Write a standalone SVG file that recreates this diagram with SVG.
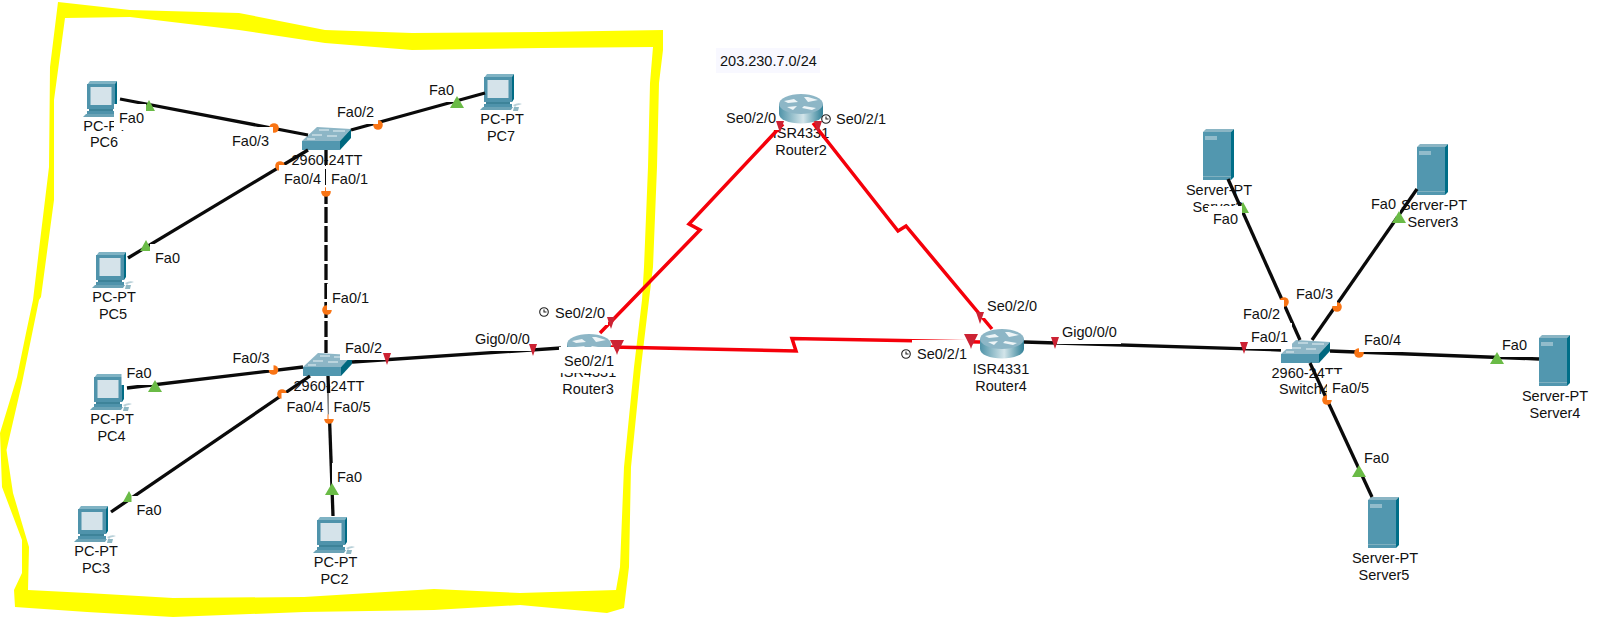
<svg xmlns="http://www.w3.org/2000/svg" xmlns:xlink="http://www.w3.org/1999/xlink" width="1607" height="619" viewBox="0 0 1607 619">
<style>
text{font-family:"Liberation Sans",Arial,sans-serif;font-size:14.5px;fill:#111}
.c{text-anchor:middle}
.w{fill:#fff}
.eth{fill:none;stroke:#0a0a0a;stroke-width:3.3}
.xo{fill:none;stroke:#0a0a0a;stroke-width:3.3;stroke-dasharray:16 3}
.ser{fill:none;stroke:#f5000a;stroke-width:3.5;stroke-linejoin:miter}
.g{fill:#6abb46}.o{fill:#f97414}.r{fill:#cc2233}
.clk{fill:none;stroke:#222;stroke-width:1.1}
</style>
<defs>
<linearGradient id="rg" x1="0" x2="1" y1="0" y2="0"><stop offset="0" stop-color="#4f93a8"/><stop offset="0.55" stop-color="#d3e5ea"/><stop offset="1" stop-color="#2f7f96"/></linearGradient>
<g id="pc">
<path d="M3 5 6 1H33L31 5Z" fill="#7fb3c4"/>
<rect x="3" y="4" width="28" height="25" fill="#4f93ab"/>
<path d="M31 4 33 1V26L31 29Z" fill="#006b85"/>
<rect x="6.500" y="7" width="21" height="18" fill="#d5e3ea"/>
<rect x="5" y="29" width="24" height="2" fill="#3d8399"/>
<rect x="3" y="31" width="28" height="3" fill="#4f93ab"/>
<path d="M-1 37 2 34H32L30 37Z" fill="#6ba3b6"/>
<path d="M32 32q5-3 9-1l-3 1q-3 0-4 2Z" fill="#b8d0d8"/><path d="M33 34h5l-1 4h-5Z" fill="#8fb8c4"/>
</g>
<g id="srv">
<path d="M0 3 3 0H31L28 3Z" fill="#8ab5c4"/>
<rect x="0" y="3" width="28" height="48" fill="#5297af"/>
<path d="M28 3 31 0V48L28 51Z" fill="#006e88"/>
<rect x="2" y="7" width="12" height="4" fill="#92bccb"/>
<rect x="0" y="47" width="28" height="1" fill="#7fb0c0"/>
</g>
<g id="rtr">
<path d="M0 10V20A22 9.500 0 0 0 44 20V10Z" fill="url(#rg)"/>
<ellipse cx="22" cy="10" rx="22" ry="10" fill="#8db6c6"/>
<path d="M5 7 15 5 19 8 9 9ZM25 3 29 8 39 6 29 3ZM25 12 37 14 33 16 23 14ZM8 13 18 12 14 16Z" fill="#eef5f7"/>
</g>
<g id="sw">
<path d="M0 14 15 0 49 2 38 14Z" fill="#8db6c6"/>
<rect x="0" y="14" width="38" height="9" fill="#5297af"/>
<path d="M38 14 49 2V11L38 23Z" fill="#00687f"/>
<path d="M17 3h10M31 4h12M10 8h10M25 9h10M5 12h8" stroke="#e8f2f5" stroke-width="1"/>
</g>
<path id="gt" d="M-6 5 0-6 6 5Z"/>
<path id="gtb" d="M-7 5 0-7 7 5Z"/>
<circle id="ob" r="4.800"/>
<path id="rt" d="M-4-6H4L0 6Z"/>
<path id="rb" d="M-7-6H7L1 6 0 9-1 6Z"/>
<g id="clock"><circle r="4.300" class="clk"/><path d="M0-2.500V0H2.500" class="clk"/></g>
</defs>
<rect width="1607" height="619" fill="#fff"/>
<path id="area" fill="#ffff00" fill-rule="evenodd" d="M58 2 130 10 239 13 325 30 412 33 542 32 663 30 663 50 659 83 657 167 653 267 649 300 641 367 631 467 629 567 624 608 607 613 520 605 434 610 304 612 173 617 87 612 15 607 14 590 22 573 22 540 2 487 0 433 17 377 26 333 33 300 41 233 49 167 50 67ZM65 18 54 100 54 200 41 297 39 300 22 383 6.500 450 13 493 29 547 28 590 87 593 173 598 304 597 434 589 520 593 616 590 620 567 624 467 634 367 642 300 644 267 648 167 650 83 653 47 542 48 412 50 325 43 239 30 130 17Z"/>
<g id="note"><rect x="716" y="48" width="104" height="25" fill="#f8f8ff"/><text x="720" y="66">203.230.7.0/24</text></g>

<g id="PC6"><use xlink:href="#pc" href="#pc" x="84" y="80"/><text class="c" x="105" y="131">PC-PT</text><text class="c" x="104" y="147">PC6</text></g>
<g id="PC7"><use xlink:href="#pc" href="#pc" x="481" y="73"/><text class="c" x="502" y="124">PC-PT</text><text class="c" x="501" y="141">PC7</text></g>
<g id="PC5"><use xlink:href="#pc" href="#pc" x="93" y="251"/><text class="c" x="114" y="302">PC-PT</text><text class="c" x="113" y="319">PC5</text></g>
<g id="PC4"><use xlink:href="#pc" href="#pc" x="91" y="373"/><text class="c" x="112" y="424">PC-PT</text><text class="c" x="111.500" y="441">PC4</text></g>
<g id="PC3"><use xlink:href="#pc" href="#pc" x="75" y="505"/><text class="c" x="96" y="556">PC-PT</text><text class="c" x="96" y="573">PC3</text></g>
<g id="PC2"><use xlink:href="#pc" href="#pc" x="314" y="516"/><text class="c" x="335.500" y="567">PC-PT</text><text class="c" x="334.500" y="584">PC2</text></g>
<g id="Switch1"><use xlink:href="#sw" href="#sw" x="302" y="127"/><text class="c" x="327" y="165">2960-24TT</text></g>
<g id="Switch2"><use xlink:href="#sw" href="#sw" x="303" y="353"/><text class="c" x="329" y="391">2960-24TT</text></g>
<g id="Switch4"><use xlink:href="#sw" href="#sw" x="1281" y="340"/><text class="c" x="1307" y="378">2960-24TT</text><text x="1279" y="394">Switch4</text></g>
<g id="Router2"><use xlink:href="#rtr" href="#rtr" x="779" y="94"/><text class="c" x="801" y="138">ISR4331</text><text class="c" x="801" y="155">Router2</text></g>
<g id="Router3"><use xlink:href="#rtr" href="#rtr" x="567" y="334"/><text class="c" x="588" y="377">ISR4331</text><text class="c" x="588" y="394">Router3</text></g>
<g id="Router4"><use xlink:href="#rtr" href="#rtr" x="980" y="329"/><text class="c" x="1001" y="374">ISR4331</text><text class="c" x="1001" y="391">Router4</text></g>
<g id="Server2"><use xlink:href="#srv" href="#srv" x="1203" y="129"/><text class="c" x="1219" y="195">Server-PT</text><text class="c" x="1218" y="212">Server2</text></g>
<g id="Server3"><use xlink:href="#srv" href="#srv" x="1417" y="144"/><text class="c" x="1434" y="210">Server-PT</text><text class="c" x="1433" y="227">Server3</text></g>
<g id="Server4"><use xlink:href="#srv" href="#srv" x="1539" y="335"/><text class="c" x="1555" y="401">Server-PT</text><text class="c" x="1555" y="418">Server4</text></g>
<g id="Server5"><use xlink:href="#srv" href="#srv" x="1368" y="497"/><text class="c" x="1385" y="563">Server-PT</text><text class="c" x="1384" y="580">Server5</text></g>

<g id="connectors">
<path class="eth" d="M120 99 308 135"/>
<path class="eth" d="M351 130 485 93"/>
<path class="eth" d="M128 258 308 150"/>
<path class="xo" d="M326 150V353"/>
<path class="eth" d="M127 388 303 367"/>
<path class="eth" d="M111 512 310 376"/>
<path class="eth" d="M333 516 328 376"/>
<path class="eth" d="M352 362 561 348"/>
<path class="ser" d="M600 333 700 230 689 224 783 124"/>
<path class="ser" d="M813 123 898 231 906 226 992 329"/>
<path class="ser" d="M611 347 796 351 792 338.500 900 340.500 980 342"/>
<path class="eth" d="M1024 342 1281 350"/>
<path class="eth" d="M1228 179 1300 340"/>
<path class="eth" d="M1417 189 1312 340"/>
<path class="eth" d="M1330 351 1539 359"/>
<path class="eth" d="M1310 363 1372 497"/>
</g>
<g id="link-lights-under">
<use class="o" xlink:href="#ob" href="#ob" x="274" y="128"/><use class="o" xlink:href="#ob" href="#ob" x="378" y="125"/>
<use class="o" xlink:href="#ob" href="#ob" x="280" y="166"/><use class="o" xlink:href="#ob" href="#ob" x="326" y="192"/>
<use class="o" xlink:href="#ob" href="#ob" x="327" y="310"/><use class="o" xlink:href="#ob" href="#ob" x="273.500" y="370"/>
<use class="o" xlink:href="#ob" href="#ob" x="282" y="394"/><use class="o" xlink:href="#ob" href="#ob" x="329" y="419"/>
<use class="o" xlink:href="#ob" href="#ob" x="1284" y="302"/><use class="o" xlink:href="#ob" href="#ob" x="1337" y="307"/>
<use class="o" xlink:href="#ob" href="#ob" x="1359" y="353"/><use class="o" xlink:href="#ob" href="#ob" x="1327" y="400"/>
<use class="g" xlink:href="#gt" href="#gt" x="149" y="106"/><use class="g" xlink:href="#gt" href="#gt" x="146" y="246"/>
<use class="g" xlink:href="#gt" href="#gt" x="129" y="497"/><use class="g" xlink:href="#gt" href="#gt" x="1243" y="208"/>
</g>
<g id="port-labels">
<rect class="w" x="114" y="104" width="32" height="26"/><text x="119" y="123">Fa0</text>
<rect class="w" x="227" y="127" width="46" height="26"/><text x="232" y="146">Fa0/3</text>
<rect class="w" x="332" y="98" width="46" height="26"/><text x="337" y="117">Fa0/2</text>
<rect class="w" x="424" y="76" width="34" height="26"/><text x="429" y="95">Fa0</text>
<rect class="w" x="279" y="165" width="46" height="26"/><text x="284" y="184">Fa0/4</text>
<rect class="w" x="326" y="165" width="46" height="26"/><text x="331" y="184">Fa0/1</text>
<rect class="w" x="150" y="244" width="34" height="26"/><text x="155" y="263">Fa0</text>
<rect class="w" x="327" y="284" width="46" height="26"/><text x="332" y="303">Fa0/1</text>
<rect class="w" x="227.500" y="344" width="46" height="26"/><text x="232.500" y="363">Fa0/3</text>
<rect class="w" x="340" y="334" width="46" height="26"/><text x="345" y="353">Fa0/2</text>
<rect class="w" x="470" y="325" width="64" height="26"/><text x="475" y="344">Gig0/0/0</text>
<rect class="w" x="121.500" y="359" width="34" height="26"/><text x="126.500" y="378">Fa0</text>
<rect class="w" x="281.500" y="393" width="46" height="26"/><text x="286.500" y="412">Fa0/4</text>
<rect class="w" x="328.500" y="393" width="46" height="26"/><text x="333.500" y="412">Fa0/5</text>
<rect class="w" x="131.500" y="496" width="34" height="26"/><text x="136.500" y="515">Fa0</text>
<rect class="w" x="332" y="463" width="34" height="26"/><text x="337" y="482">Fa0</text>
<rect class="w" x="550" y="299" width="58" height="26"/><text x="555" y="318">Se0/2/0</text>
<rect class="w" x="559" y="347" width="58" height="26"/><text x="564" y="366">Se0/2/1</text>
<rect class="w" x="721" y="104" width="58" height="26"/><text x="726" y="123">Se0/2/0</text>
<rect class="w" x="831" y="105" width="58" height="26"/><text x="836" y="124">Se0/2/1</text>
<rect class="w" x="982" y="292" width="58" height="26"/><text x="987" y="311">Se0/2/0</text>
<rect class="w" x="912" y="340" width="58" height="26"/><text x="917" y="359">Se0/2/1</text>
<rect class="w" x="1057" y="318" width="64" height="26"/><text x="1062" y="337">Gig0/0/0</text>
<rect class="w" x="1208" y="206" width="34" height="25"/><text x="1213" y="224">Fa0</text>
<rect class="w" x="1366" y="190" width="34" height="26"/><text x="1371" y="209">Fa0</text>
<rect class="w" x="1291" y="280" width="46" height="26"/><text x="1296" y="299">Fa0/3</text>
<rect class="w" x="1238" y="300" width="46" height="26"/><text x="1243" y="319">Fa0/2</text>
<rect class="w" x="1246" y="323" width="46" height="26"/><text x="1251" y="342">Fa0/1</text>
<rect class="w" x="1359" y="326" width="46" height="26"/><text x="1364" y="345">Fa0/4</text>
<rect class="w" x="1497" y="331" width="34" height="26"/><text x="1502" y="350">Fa0</text>
<rect class="w" x="1327" y="374" width="46" height="26"/><text x="1332" y="393">Fa0/5</text>
<rect class="w" x="1359" y="444" width="34" height="26"/><text x="1364" y="463">Fa0</text>
</g>
<g id="link-lights-over">
<use class="g" xlink:href="#gtb" href="#gtb" x="457" y="103"/><use class="g" xlink:href="#gtb" href="#gtb" x="155" y="387"/>
<use class="g" xlink:href="#gtb" href="#gtb" x="332" y="490"/><use class="g" xlink:href="#gtb" href="#gtb" x="1399" y="218"/>
<use class="g" xlink:href="#gtb" href="#gtb" x="1497" y="359"/><use class="g" xlink:href="#gtb" href="#gtb" x="1359" y="472"/>
<use class="r" xlink:href="#rt" href="#rt" x="387" y="359"/><use class="r" xlink:href="#rt" href="#rt" x="533" y="350"/>
<use class="r" xlink:href="#rt" href="#rt" x="611" y="323"/><use class="r" xlink:href="#rb" href="#rb" x="617" y="346"/>
<use class="r" xlink:href="#rt" href="#rt" x="780" y="127"/><use class="r" xlink:href="#rt" href="#rt" x="818" y="127"/>
<use class="r" xlink:href="#rt" href="#rt" x="980" y="318"/><use class="r" xlink:href="#rb" href="#rb" x="971" y="340"/>
<use class="r" xlink:href="#rt" href="#rt" x="1055" y="343"/><use class="r" xlink:href="#rt" href="#rt" x="1244" y="348"/>
</g>
<g id="clocks">
<use xlink:href="#clock" href="#clock" x="544" y="312"/><use xlink:href="#clock" href="#clock" x="826" y="119"/><use xlink:href="#clock" href="#clock" x="906" y="354"/>
</g>
</svg>
